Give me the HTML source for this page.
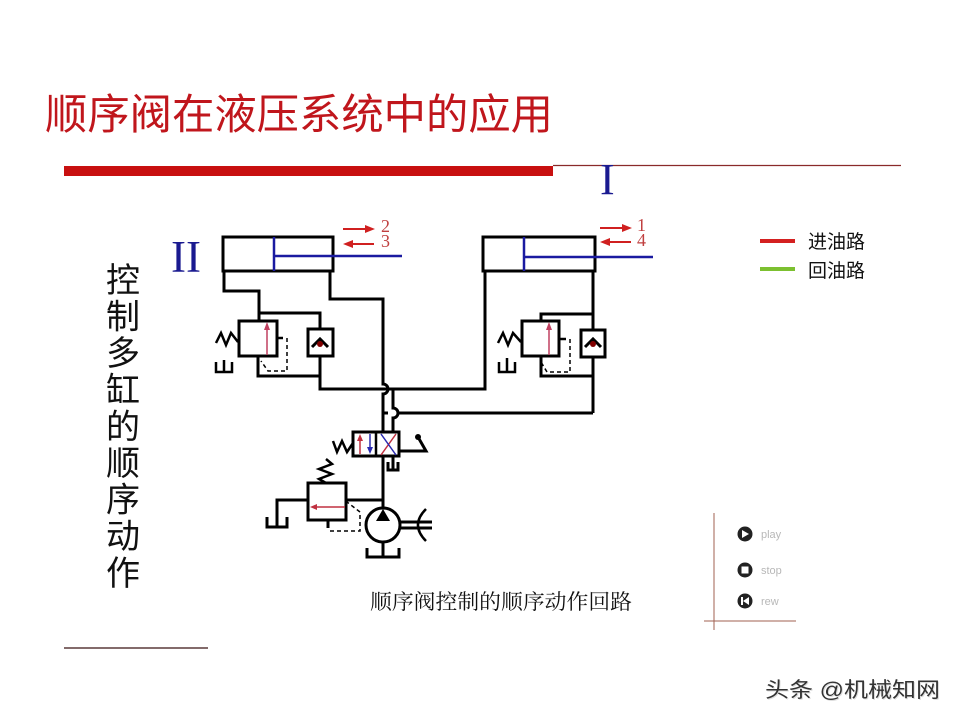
<!DOCTYPE html>
<html><head><meta charset="utf-8"><style>
html,body{margin:0;padding:0;background:#fff;}
svg{display:block;}
</style></head><body>
<svg width="960" height="720" viewBox="0 0 960 720" xmlns="http://www.w3.org/2000/svg">
<rect width="960" height="720" fill="#fff"/>
<!-- Title -->
<text x="45" y="129" font-family="'Liberation Sans','Noto Sans CJK SC',sans-serif" font-size="42" fill="#c0161c" textLength="508" lengthAdjust="spacingAndGlyphs">顺序阀在液压系统中的应用</text>
<rect x="64" y="166" width="489" height="10" fill="#c81010"/>
<line x1="553" y1="165.5" x2="901" y2="165.5" stroke="#8a2a2a" stroke-width="1.2"/>
<text x="600" y="194" font-family="'Liberation Serif',serif" font-size="44" fill="#1a1a90">I</text>
<text x="171" y="272" font-family="'Liberation Serif',serif" font-size="45" fill="#1a1a90">II</text>

<!-- vertical text -->
<g font-family="'Liberation Sans','Noto Sans CJK SC',sans-serif" font-size="34" fill="#111" text-anchor="middle">
<text x="123" y="292">控</text>
<text x="123" y="328.6">制</text>
<text x="123" y="365.2">多</text>
<text x="123" y="401.8">缸</text>
<text x="123" y="438.4">的</text>
<text x="123" y="475">顺</text>
<text x="123" y="511.6">序</text>
<text x="123" y="548.2">动</text>
<text x="123" y="584.8">作</text>
</g>
<line x1="64" y1="648" x2="208" y2="648" stroke="#5a3a3a" stroke-width="1.5"/>

<!-- Legend -->
<line x1="760" y1="241" x2="795" y2="241" stroke="#d42020" stroke-width="4"/>
<line x1="760" y1="269" x2="795" y2="269" stroke="#7cc030" stroke-width="4"/>
<g font-family="'Liberation Sans','Noto Sans CJK SC',sans-serif" font-size="19" fill="#111">
<text x="808" y="248">进油路</text>
<text x="808" y="277">回油路</text>
</g>

<!-- Cylinder II -->
<g stroke="#000" stroke-width="3" fill="none">
<rect x="223" y="237" width="110" height="34"/>
<rect x="483" y="237" width="112" height="34"/>
</g>
<g stroke="#1a1aa0" stroke-width="2.5" fill="none">
<line x1="274" y1="237" x2="274" y2="271"/>
<line x1="274" y1="256" x2="402" y2="256"/>
<line x1="524" y1="237" x2="524" y2="271"/>
<line x1="524" y1="257" x2="653" y2="257"/>
</g>
<!-- arrows -->
<g stroke="#d02020" stroke-width="2" fill="#d02020">
<line x1="343" y1="229" x2="368" y2="229"/><polygon points="375,229 365,225 365,233" stroke="none"/>
<line x1="350" y1="244" x2="374" y2="244"/><polygon points="343,244 353,240 353,248" stroke="none"/>
<line x1="600" y1="228" x2="625" y2="228"/><polygon points="632,228 622,224 622,232" stroke="none"/>
<line x1="607" y1="242" x2="631" y2="242"/><polygon points="600,242 610,238 610,246" stroke="none"/>
</g>
<g font-family="'Liberation Serif',serif" font-size="18" fill="#c04040">
<text x="381" y="232">2</text>
<text x="381" y="247">3</text>
<text x="637" y="231">1</text>
<text x="637" y="246">4</text>
</g>

<!-- Pipes -->
<g stroke="#000" stroke-width="3" fill="none">
<path d="M224,271 V291 H259 V321"/>
<path d="M259,313 H320 V329"/>
<rect x="239" y="321" width="38" height="35"/>
<path d="M258,356 V376 H320"/>
<path d="M320,357 V389 H485 V271"/>
<rect x="308" y="329" width="25" height="27"/>
<path d="M330,271 V299 H383 V384 A5,5 0 0 1 383,394 V432"/>
<path d="M393,389 V408 A5,5 0 0 1 393,418 V432"/>
<path d="M383,413 H388 M398,413 H593"/>
<path d="M593,271 V330"/>
<rect x="581" y="330" width="24" height="27"/>
<path d="M593,357 V413"/>
<path d="M593,314 H541 V321"/>
<rect x="522" y="321" width="37" height="35"/>
<path d="M541,356 V376 H593"/>
<!-- directional valve -->
<rect x="353" y="432" width="46" height="24"/>
<path d="M383,456 V508"/>
<path d="M346,500 H383"/>
<rect x="308" y="483" width="38" height="37"/>
<path d="M308,500 H277 V527"/>
<path d="M267,517 V527 H287 V517"/>
<path d="M328,520 V528"/>
<circle cx="383" cy="525" r="17"/>
<path d="M383,542 V557"/>
<path d="M367,548 V557 H399 V548"/>
<path d="M400,522 H432 M400,528 H432"/>
<path d="M393,456 V470"/>
<path d="M388,462 V470 H398 V462"/>
<path d="M399,451 H426 L418,437"/>
<!-- check valves -->
<path d="M312,347 L320,339 L328,347"/>
<path d="M585,347 L593,339 L601,347"/>
</g>
<g stroke="#000" stroke-width="2.5" fill="none">
<line x1="376" y1="432" x2="376" y2="456"/>
<polyline points="216,343 221,333 226,345 231,333 238,342"/>
<path d="M216,362 V372 H232 V362 M224,360 V372"/>
<polyline points="498,343 503,333 508,345 513,333 521,342"/>
<path d="M499,362 V372 H515 V362 M507,358 V372"/>
<polyline points="333,441 337,452 342,441 347,452 353,443"/>
<polyline points="326,483 319,479 332,474 319,469 332,464 326,459"/>
<path d="M277,338 H283"/>
<path d="M559,339 H566"/>
<path d="M426,509 Q410,525 426,541"/>
</g>
<circle cx="418" cy="437" r="3" fill="#000"/>
<circle cx="320" cy="344" r="3" fill="#800000"/>
<circle cx="593" cy="344" r="3" fill="#800000"/>
<polygon points="383,509 376,521 390,521" fill="#000"/>
<!-- dashed pilot lines -->
<g stroke="#000" stroke-width="1.5" fill="none" stroke-dasharray="4,3">
<path d="M287,338 V371 H268 L261,361"/>
<path d="M570,339 V372 H547 L541,362"/>
<path d="M330,531 H360 V512 L347,502"/>
</g>
<!-- red/blue internals -->
<g stroke-width="1.5" fill="none">
<line x1="267" y1="355" x2="267" y2="326" stroke="#c04060"/>
<line x1="549" y1="355" x2="549" y2="326" stroke="#c04060"/>
<line x1="345" y1="507" x2="314" y2="507" stroke="#c03040"/>
<line x1="360" y1="454" x2="360" y2="438" stroke="#c03040"/>
<line x1="370" y1="434" x2="370" y2="450" stroke="#2a2ab0"/>
<line x1="381" y1="455" x2="396" y2="434" stroke="#c03040"/>
<line x1="381" y1="434" x2="396" y2="455" stroke="#2a2ab0"/>
</g>
<polygon points="267,322 264,330 270,330" fill="#c04060"/>
<polygon points="549,322 546,330 552,330" fill="#c04060"/>
<polygon points="310,507 317,504 317,510" fill="#c03040"/>
<polygon points="360,434 357,441 363,441" fill="#c03040"/>
<polygon points="370,454 367,447 373,447" fill="#2a2ab0"/>

<!-- caption -->
<text x="370" y="609" font-family="'Liberation Serif','Noto Serif CJK SC',serif" font-size="21" fill="#111" textLength="262" lengthAdjust="spacingAndGlyphs">顺序阀控制的顺序动作回路</text>

<!-- controls -->
<line x1="714" y1="513" x2="714" y2="630" stroke="#a06050" stroke-width="1"/>
<line x1="704" y1="621" x2="796" y2="621" stroke="#a06050" stroke-width="1"/>
<circle cx="745" cy="534" r="7.5" fill="#222"/>
<polygon points="742,530 742,538 749,534" fill="#fff"/>
<circle cx="745" cy="570" r="7.5" fill="#222"/>
<rect x="741.5" y="566.5" width="7" height="7" fill="#fff"/>
<circle cx="745" cy="601" r="7.5" fill="#222"/>
<rect x="741" y="597" width="2" height="8" fill="#fff"/>
<polygon points="743,601 749,597 749,605" fill="#fff"/>
<g font-family="'Liberation Sans',sans-serif" font-size="11" fill="#b8b8b8">
<text x="761" y="538">play</text>
<text x="761" y="574">stop</text>
<text x="761" y="605">rew</text>
</g>

<!-- watermark -->
<text x="766" y="698" font-family="'Liberation Sans','Noto Sans CJK SC',sans-serif" font-size="21" fill="#ddd" textLength="175" lengthAdjust="spacingAndGlyphs">头条 @机械知网</text>
<text x="765" y="697" font-family="'Liberation Sans','Noto Sans CJK SC',sans-serif" font-size="21" fill="#333" textLength="175" lengthAdjust="spacingAndGlyphs">头条 @机械知网</text>
</svg>
</body></html>
